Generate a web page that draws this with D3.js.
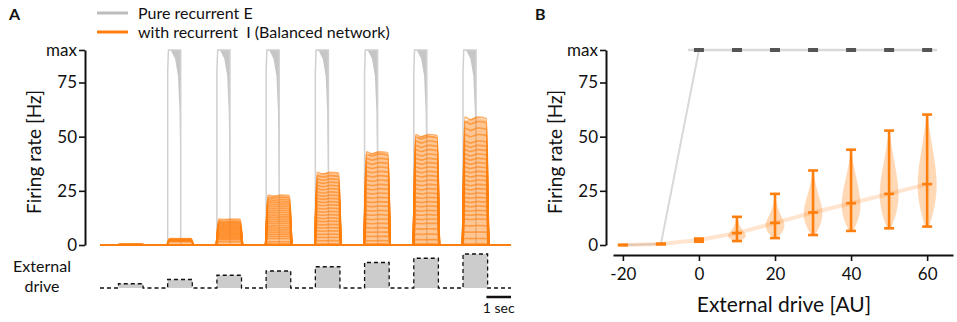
<!DOCTYPE html>
<html>
<head>
<meta charset="utf-8">
<script src="https://cdn.jsdelivr.net/npm/d3@7"></script>
<style>
  body { margin: 0; background: #fff; }
  text { font-family: Lato, "Open Sans", sans-serif; fill: #111; }
</style>
</head>
<body>
<div id="chart"></div>
<script>
// ---- data ----
const rateTicks = [0, 25, 50, 75, 90];
const rateTickLabels = ["0", "25", "50", "75", "max"];
const maxRate = 90;

// panel A: time course (seconds)
const tEnd = 16.7;
const pulseStarts = [0.75, 2.75, 4.75, 6.75, 8.75, 10.75, 12.75, 14.75];
const pulseLength = 1.0;
const pulseDrives = [-10, 0, 10, 20, 30, 40, 50, 60];
// pure recurrent E response per pulse (Hz)
const ePeak = [0.5, 90, 90, 90, 90, 90, 90, 90];
// E trace outline and decaying wedge, relative to pulse onset [s, Hz]
const eOutline = [[0, 0], [0, 80], [0.03, 90], [0.53, 90], [0.53, 0]];
const eWedge = [[0.12, 90], [0.3, 86], [0.42, 78], [0.48, 62], [0.52, 30], [0.53, 0], [0.53, 90]];
// balanced network: single-neuron plateau rates per pulse (Hz)
const iLevels = [
  [0.3, 0.5, 0.6],
  [1.5, 1.8, 2.0, 2.2, 2.4, 2.6, 2.8, 3.0],
  [1.5, 2.5, 3, 3.5, 4, 4.5, 5, 5.5, 6, 6.5, 7, 7.5, 8, 8.5, 9, 9.5, 10, 10.5, 11, 12],
  [0.5, 1.5, 3, 4, 5, 6, 7, 8, 9, 10, 11, 12, 13, 14, 15, 16, 17, 18, 19, 20, 21, 22, 23],
  [0.5, 2, 3.5, 5, 6.5, 8, 9.5, 11, 12.5, 14, 15.5, 17, 18.5, 20, 21.5, 23, 24.5, 26, 27.5, 29, 30.5, 32, 33.5],
  [0.5, 2, 4, 6, 8, 10, 12, 14, 16, 18, 20, 22, 24, 26, 28, 30, 32, 34, 36, 38, 40, 42, 43],
  [0.5, 2.5, 5, 7.5, 10, 12, 14, 16, 18, 20, 22, 24, 26, 28, 30, 32, 34, 36, 38, 40, 42, 44, 46, 48, 50, 51],
  [0.5, 3, 6, 9, 12, 14, 16, 18, 20, 22, 24, 26, 28, 30, 32, 34, 36, 38, 40, 42, 44, 46, 48, 51, 54, 57, 59]
];

// panel B: summary per external drive
const drives = [-20, -10, 0, 10, 20, 30, 40, 50, 60];
const driveTicks = [-20, 0, 20, 40, 60];
const eRate = [0, 0.5, 90, 90, 90, 90, 90, 90, 90];
const iMin = [0, 0.3, 1.5, 1.8, 3.2, 4.6, 6.5, 7.7, 8.5];
const iMedian = [0, 0.5, 2.3, 5.5, 10.2, 15, 19.3, 23.6, 28.1];
const iMax = [0, 0.6, 3.0, 13, 23.6, 34.4, 44, 52.8, 60.2];
// violin width profile, sampled evenly from min to max (relative)
const iProfile = [
  null, null, null,
  [0.3, 1, 0.8, 0.45, 0.25, 0.12, 0.03],
  [0.2, 0.9, 1, 0.6, 0.3, 0.12, 0.02],
  [0.2, 0.8, 1, 0.8, 0.45, 0.2, 0.03],
  [0.2, 0.85, 1, 0.8, 0.5, 0.2, 0.03],
  [0.2, 0.8, 1, 0.85, 0.55, 0.25, 0.03],
  [0.2, 0.75, 1, 0.9, 0.6, 0.3, 0.04]
];

const orange = "#ff7f0e";
const W = 957, H = 322;

const svg = d3.select("#chart").append("svg")
  .attr("width", W)
  .attr("height", H);

// ---------- panel A ----------
const xA = d3.scaleLinear().domain([0, tEnd]).range([100, 511]);
const yA = d3.scaleLinear().domain([0, maxRate]).range([245, 50]);
const yDrive = d3.scaleLinear().domain([-20, 60]).range([288, 254]);

const gA = svg.append("g");

// pure E traces (gray)
const lineA = d3.line().x(d => xA(d[0])).y(d => yA(d[1]));
pulseStarts.forEach((t0, i) => {
  if (ePeak[i] < maxRate) return;
  gA.append("path")
    .attr("d", lineA(eWedge.map(p => [t0 + p[0], p[1]])) + "Z")
    .attr("fill", "#c6c6c6");
  gA.append("path")
    .attr("d", lineA(eOutline.map(p => [t0 + p[0], p[1]])))
    .attr("fill", "none")
    .attr("stroke", "#d0d0d0")
    .attr("stroke-width", 1.5);
});

// balanced network traces (orange)
gA.append("line")
  .attr("x1", xA(0)).attr("x2", xA(tEnd))
  .attr("y1", yA(0)).attr("y2", yA(0))
  .attr("stroke", orange).attr("stroke-width", 2);

const traceLine = d3.line().x(d => xA(d[0])).y(d => yA(d[1])).curve(d3.curveMonotoneX);
pulseStarts.forEach((t0, i) => {
  const t1 = t0 + pulseLength;
  const lv = iLevels[i];
  const top = d3.max(lv);
  // envelope of all neurons
  const env = [[t0 - 0.02, 0], [t0 + 0.07, top * 0.97], [t0 + 0.5, top], [t1 - 0.05, top * 0.98], [t1 + 0.04, 0]];
  gA.append("path")
    .attr("d", lineA(env) + "Z")
    .attr("fill", orange)
    .attr("fill-opacity", 0.45);
  lv.forEach(v => {
    const pts = [[t0 - 0.02, 0], [t0 + 0.07, v], [t0 + 0.3, v * 0.98], [t0 + 0.6, v], [t1 - 0.05, v * 0.99], [t1 + 0.04, 0]];
    gA.append("path")
      .attr("d", traceLine(pts))
      .attr("fill", "none")
      .attr("stroke", orange)
      .attr("stroke-opacity", 0.6)
      .attr("stroke-width", 1.6);
  });
});

// y axis A
const axisA = d3.axisLeft(yA)
  .tickValues(rateTicks)
  .tickFormat((d, i) => rateTickLabels[i])
  .tickSize(6)
  .tickSizeOuter(0)
  .tickPadding(2);
svg.append("g").attr("transform", "translate(85,0)").call(axisA);

// external drive strip
pulseStarts.forEach((t0, i) => {
  gA.append("rect")
    .attr("x", xA(t0))
    .attr("y", yDrive(pulseDrives[i]))
    .attr("width", xA(t0 + pulseLength) - xA(t0))
    .attr("height", yDrive(-20) - yDrive(pulseDrives[i]))
    .attr("fill", "#cccccc");
});
const drivePts = [[0, -20]];
pulseStarts.forEach((t0, i) => {
  drivePts.push([t0, -20], [t0, pulseDrives[i]], [t0 + pulseLength, pulseDrives[i]], [t0 + pulseLength, -20]);
});
drivePts.push([tEnd, -20]);
gA.append("path")
  .attr("d", d3.line().x(d => xA(d[0])).y(d => yDrive(d[1]))(drivePts))
  .attr("fill", "none")
  .attr("stroke", "#111")
  .attr("stroke-width", 1.3)
  .attr("stroke-dasharray", "4,3");

// 1 sec scale bar
gA.append("line")
  .attr("x1", xA(15.7)).attr("x2", xA(16.7))
  .attr("y1", 297).attr("y2", 297)
  .attr("stroke", "#111").attr("stroke-width", 2.5);
gA.append("text")
  .attr("x", xA(16.2)).attr("y", 313)
  .attr("text-anchor", "middle")
  .style("font-size", "14px")
  .text("1 sec");

gA.append("text")
  .attr("x", 42).attr("y", 272)
  .attr("text-anchor", "middle")
  .style("font-size", "16px")
  .text("External");
gA.append("text")
  .attr("x", 42).attr("y", 292)
  .attr("text-anchor", "middle")
  .style("font-size", "16px")
  .text("drive");

gA.append("text")
  .attr("transform", "translate(41,152) rotate(-90)")
  .attr("text-anchor", "middle")
  .style("font-size", "19px")
  .text("Firing rate [Hz]");

// legend
const legend = [["Pure recurrent E", "#bdbdbd", 13], ["with recurrent  I (Balanced network)", orange, 32]];
legend.forEach(l => {
  gA.append("line")
    .attr("x1", 97).attr("x2", 128)
    .attr("y1", l[2]).attr("y2", l[2])
    .attr("stroke", l[1]).attr("stroke-width", 3);
  gA.append("text")
    .attr("x", 138).attr("y", l[2] + 6)
    .style("font-size", "16px")
    .style("white-space", "pre")
    .attr("xml:space", "preserve")
    .text(l[0]);
});

// ---------- panel B ----------
const xB = d3.scaleLinear().domain([-22.6, 66.8]).range([613, 953]);
const yB = d3.scaleLinear().domain([0, maxRate]).range([245, 50]);
const gB = svg.append("g");

// connecting lines
gB.append("path")
  .attr("d", d3.line().x((d, i) => xB(drives[i])).y(d => yB(d))(eRate))
  .attr("fill", "none")
  .attr("stroke", "#d9d9d9")
  .attr("stroke-width", 2);
gB.append("line")
  .attr("x1", xB(0) - 11).attr("x2", xB(60) + 10)
  .attr("y1", yB(maxRate)).attr("y2", yB(maxRate))
  .attr("stroke", "#d9d9d9").attr("stroke-width", 2.5);
gB.append("path")
  .attr("d", d3.line().x((d, i) => xB(drives[i])).y(d => yB(d))(iMedian))
  .attr("fill", "none")
  .attr("stroke", orange)
  .attr("stroke-opacity", 0.2)
  .attr("stroke-width", 4);

// violins
const halfW = d3.scaleLinear().domain([0, 1]).range([0, 10]);
drives.forEach((dv, i) => {
  const cx = xB(dv);
  const prof = iProfile[i];
  if (prof) {
    const pts = prof.map((w, k) => [iMin[i] + (iMax[i] - iMin[i]) * k / (prof.length - 1), w]);
    const area = d3.area()
      .curve(d3.curveBasis)
      .y(d => yB(d[0]))
      .x0(d => cx - halfW(d[1]))
      .x1(d => cx + halfW(d[1]));
    gB.append("path")
      .attr("d", area(pts))
      .attr("fill", orange)
      .attr("fill-opacity", 0.3);
  }
  gB.append("line")
    .attr("x1", cx).attr("x2", cx)
    .attr("y1", yB(iMin[i])).attr("y2", yB(iMax[i]))
    .attr("stroke", orange).attr("stroke-width", 2.6);
  [iMin[i], iMedian[i], iMax[i]].forEach(v => {
    gB.append("line")
      .attr("x1", cx - 5).attr("x2", cx + 5)
      .attr("y1", yB(v)).attr("y2", yB(v))
      .attr("stroke", orange).attr("stroke-width", 2.6);
  });
  // pure E marker at saturation
  if (eRate[i] >= maxRate) {
    gB.append("rect")
      .attr("x", cx - 5).attr("y", yB(eRate[i]) - 2)
      .attr("width", 10).attr("height", 4)
      .attr("fill", "#555");
  }
});

const axisBy = d3.axisLeft(yB)
  .tickValues(rateTicks)
  .tickFormat((d, i) => rateTickLabels[i])
  .tickSize(6)
  .tickSizeOuter(0)
  .tickPadding(2);
svg.append("g").attr("transform", "translate(606,0)").call(axisBy);

const axisBx = d3.axisBottom(xB)
  .tickValues(driveTicks)
  .tickFormat(d => String(d))
  .tickSize(6)
  .tickSizeOuter(0)
  .tickPadding(7);
svg.append("g").attr("transform", "translate(0,255)").call(axisBx);

gB.append("text")
  .attr("transform", "translate(562,152) rotate(-90)")
  .attr("text-anchor", "middle")
  .style("font-size", "19px")
  .text("Firing rate [Hz]");
gB.append("text")
  .attr("x", 784).attr("y", 312)
  .attr("text-anchor", "middle")
  .style("font-size", "21px")
  .text("External drive [AU]");

// panel letters
svg.append("text").attr("x", 9).attr("y", 20)
  .style("font-size", "16px").style("font-weight", "bold").text("A");
svg.append("text").attr("x", 535).attr("y", 20)
  .style("font-size", "16px").style("font-weight", "bold").text("B");

// axis styling
svg.selectAll(".domain").attr("stroke", "#111").attr("stroke-width", 2);
svg.selectAll(".tick line").attr("stroke", "#111").attr("stroke-width", 1.6);
svg.selectAll(".tick text")
  .style("font-family", "Lato, 'Open Sans', sans-serif")
  .style("font-size", "17px")
  .attr("fill", "#111");
</script>
</body>
</html>
